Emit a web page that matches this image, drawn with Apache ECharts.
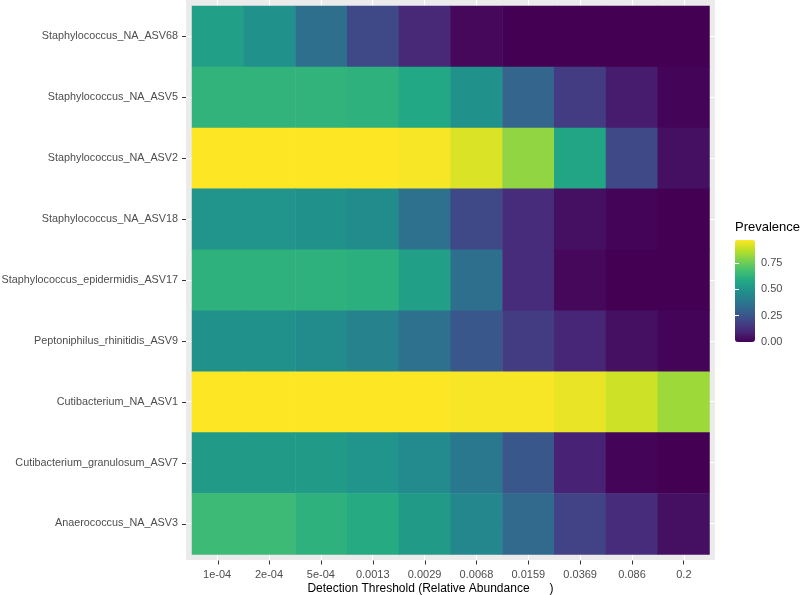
<!DOCTYPE html>
<html>
<head>
<meta charset="utf-8">
<script src="https://cdn.jsdelivr.net/npm/echarts@6/dist/echarts.min.js"></script>
<style>html,body{margin:0;padding:0;background:#fff}#chart{width:800px;height:595px}</style>
</head>
<body>
<div id="chart"></div>
<script>
// Detection thresholds (x categories)
const thresholds = ['1e-04', '2e-04', '5e-04', '0.0013', '0.0029', '0.0068', '0.0159', '0.0369', '0.086', '0.2'];
// Taxa, top to bottom
const taxa = [
  'Staphylococcus_NA_ASV68',
  'Staphylococcus_NA_ASV5',
  'Staphylococcus_NA_ASV2',
  'Staphylococcus_NA_ASV18',
  'Staphylococcus_epidermidis_ASV17',
  'Peptoniphilus_rhinitidis_ASV9',
  'Cutibacterium_NA_ASV1',
  'Cutibacterium_granulosum_ASV7',
  'Anaerococcus_NA_ASV3'
];
// Prevalence per taxon across thresholds
const asv68 = [0.55, 0.49, 0.35, 0.21, 0.11, 0.02, 0.00, 0.00, 0.00, 0.00];
const asv5  = [0.63, 0.63, 0.63, 0.62, 0.58, 0.49, 0.31, 0.17, 0.07, 0.01];
const asv2  = [0.97, 0.97, 0.97, 0.97, 0.96, 0.92, 0.81, 0.57, 0.21, 0.04];
const asv18 = [0.50, 0.50, 0.49, 0.47, 0.36, 0.21, 0.12, 0.04, 0.01, 0.00];
const asv17 = [0.62, 0.62, 0.62, 0.61, 0.55, 0.35, 0.12, 0.02, 0.00, 0.00];
const asv9  = [0.49, 0.49, 0.47, 0.43, 0.36, 0.26, 0.17, 0.10, 0.04, 0.01];
const asv1  = [0.97, 0.97, 0.97, 0.97, 0.97, 0.96, 0.96, 0.94, 0.90, 0.83];
const asv7  = [0.53, 0.53, 0.53, 0.50, 0.46, 0.39, 0.26, 0.09, 0.01, 0.00];
const asv3  = [0.66, 0.66, 0.62, 0.59, 0.53, 0.45, 0.33, 0.19, 0.12, 0.04];
const legendBreaks = [0, 0.25, 0.5, 0.75];

const rows = [asv68, asv5, asv2, asv18, asv17, asv9, asv1, asv7, asv3];
const viridis = ['#440154', '#482576', '#414487', '#35608D', '#2A788E', '#21908C', '#22A884', '#43BF71', '#7AD151', '#BBDF27', '#FDE725'];

const data = [];
rows.forEach((r, i) => r.forEach((v, j) => data.push([j, i, v])));
const vMin = 0;
const vMax = Math.max(...data.map(d => d[2]));

const FONT = 'Liberation Sans, Arial, sans-serif';
const centersX = thresholds.map((_, i) => i);
const centersY = taxa.map((_, i) => i);

const chart = echarts.init(document.getElementById('chart'), null, {renderer: 'canvas'});
chart.setOption({
  backgroundColor: '#ffffff',
  animation: false,
  textStyle: {fontFamily: FONT},
  title: {
    text: 'Prevalence', left: 735, top: 221, padding: 0,
    textStyle: {fontFamily: FONT, fontSize: 13, fontWeight: 'normal', color: '#000000'}
  },
  grid: [
    {left: 186, top: 0, width: 529, height: 560, show: true, backgroundColor: '#EBEBEB', borderWidth: 0, z: 0,
      containLabel: false, outerBoundsMode: 'none'},
    {left: 192, top: 6, width: 517.5, height: 548.5, show: false, z: 1, containLabel: false, outerBoundsMode: 'none'},
    {left: 735, top: 240, width: 20, height: 102, show: false, z: 10, containLabel: false, outerBoundsMode: 'none'}
  ],
  xAxis: [
    {
      gridIndex: 0, type: 'value', min: -0.6, max: thresholds.length - 0.4, position: 'bottom',
      axisLine: {show: false},
      axisTick: {show: false, customValues: centersX},
      axisLabel: {show: true, customValues: centersX, margin: 9, color: '#4D4D4D', fontSize: 11, fontFamily: FONT,
        formatter: v => thresholds[Math.round(v)]},
      splitLine: {show: true, lineStyle: {color: '#ffffff', width: 1.1}},
      name: 'Detection Threshold (Relative Abundance      )',
      nameLocation: 'middle', nameGap: 23, nameMoveOverlap: false,
      nameTextStyle: {color: '#000000', fontSize: 12, fontFamily: FONT, padding: [0, 40, 0, 0]}
    },
    {
      gridIndex: 1, type: 'category', data: thresholds, offset: 6, position: 'bottom',
      axisLine: {show: false},
      axisTick: {show: true, alignWithLabel: true, interval: 0, length: 4, lineStyle: {color: '#333333', width: 1}},
      axisLabel: {show: false}, splitLine: {show: false}
    },
    {gridIndex: 2, type: 'value', show: false, min: 0, max: 1}
  ],
  yAxis: [
    {
      gridIndex: 0, type: 'value', min: -0.6, max: taxa.length - 0.4, inverse: true, position: 'left',
      axisLine: {show: false},
      axisTick: {show: false, customValues: centersY},
      axisLabel: {show: true, customValues: centersY, margin: 8, color: '#4D4D4D', fontSize: 10.8, fontFamily: FONT,
        formatter: v => taxa[Math.round(v)]},
      splitLine: {show: true, lineStyle: {color: '#ffffff', width: 1.1}}
    },
    {
      gridIndex: 1, type: 'category', data: taxa, inverse: true, offset: 6, position: 'left',
      axisLine: {show: false},
      axisTick: {show: true, alignWithLabel: true, interval: 0, length: 4, lineStyle: {color: '#333333', width: 1}},
      axisLabel: {show: false}, splitLine: {show: false}
    },
    {
      gridIndex: 2, type: 'value', min: vMin, max: vMax, position: 'right', z: 10,
      axisLine: {show: false},
      axisTick: {show: true, inside: true, length: 4, customValues: legendBreaks, lineStyle: {color: '#ffffff', width: 1}},
      axisLabel: {show: true, customValues: legendBreaks, margin: 6, color: '#4D4D4D', fontSize: 11, fontFamily: FONT,
        formatter: v => Number(v).toFixed(2)},
      splitLine: {show: false}
    },
    {
      gridIndex: 2, type: 'value', min: vMin, max: vMax, position: 'left', z: 10,
      axisLine: {show: false}, axisLabel: {show: false},
      axisTick: {show: true, inside: true, length: 4, customValues: legendBreaks, lineStyle: {color: '#ffffff', width: 1}},
      splitLine: {show: false}
    }
  ],
  visualMap: {
    type: 'continuous', min: vMin, max: vMax, seriesIndex: 0, dimension: 2,
    show: true, calculable: false, left: 735, top: 240, itemWidth: 20, itemHeight: 102,
    padding: 0, text: null, orient: 'vertical', hoverLink: false,
    inRange: {color: viridis}, z: 4
  },
  series: [
    {
      type: 'heatmap', xAxisIndex: 1, yAxisIndex: 1, data: data,
      itemStyle: {borderWidth: 0},
      emphasis: {disabled: true},
      progressive: 0
    }
  ]
});
</script>
</body>
</html>
